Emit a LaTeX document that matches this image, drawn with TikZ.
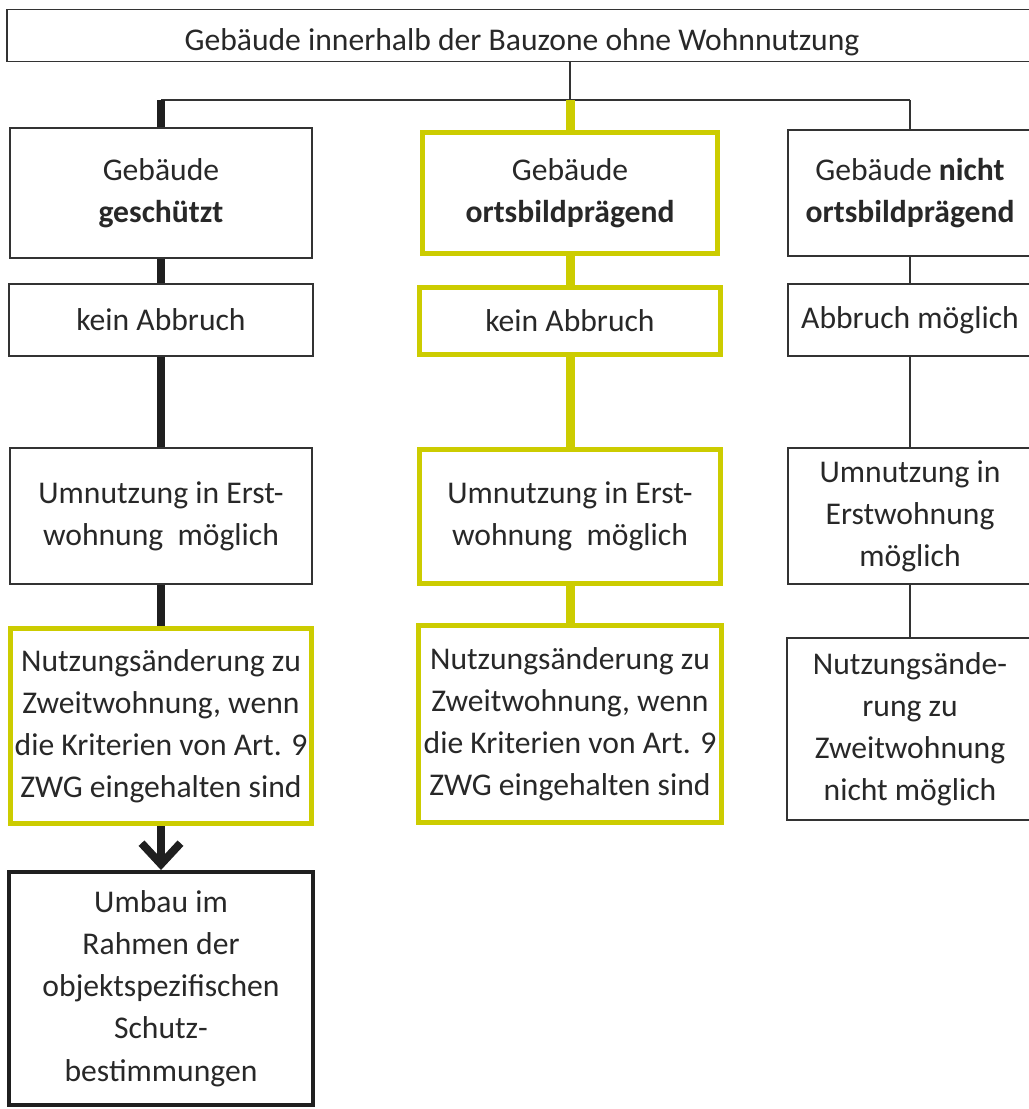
\documentclass[tikz,border=0pt]{standalone}
\usepackage{fontspec}
\setmainfont{Carlito}
\usetikzlibrary{arrows.meta}
\definecolor{ortsgelb}{RGB}{204,204,0}
\definecolor{schrift}{RGB}{40,40,40}

\begin{document}
\begin{tikzpicture}[x=0.02cm,y=-0.02cm,font=\fontsize{18}{24}\selectfont,text=schrift,
    >={Straight Barb[length=0.42cm,width=0.78cm]},
    box/.style={draw=black!80,line width=0.8pt,fill=white,align=center,inner sep=2pt},
    gelb/.style={draw=ortsgelb,line width=0.1cm,fill=white,align=center,inner sep=2pt},
    fett/.style={draw=black!88,line width=0.08cm,fill=white,align=center,inner sep=2pt},
    schwarz/.style={draw=black!88,line width=0.16cm},
    gelblinie/.style={draw=ortsgelb,line width=0.18cm},
    duenn/.style={draw=black!80,line width=0.8pt}]
    \useasboundingbox (0,0) rectangle (1028,1109);
    \node (T) [box,minimum width=20.6cm,minimum height=1.02cm,text height=0.75cm,text depth=0.16cm] at (522,35.5) {Geb\"aude innerhalb der Bauzone ohne Wohnnutzung};
    % linke Spalte: geschuetzt
    \node (L1) [box,minimum width=6.04cm,minimum height=2.6cm]  at (161,193) {Geb\"aude\\\textbf{gesch\"utzt}};
    \node (L2) [box,minimum width=6.08cm,minimum height=1.44cm] at (161,320) {kein Abbruch};
    \node (L3) [box,minimum width=6.04cm,minimum height=2.72cm] at (161,516) {Umnutzung in Erst-\\wohnung\ \ m\"oglich};
    \node (L4) [gelb,minimum width=6.04cm,minimum height=3.92cm] at (161,726) {Nutzungs\"anderung zu\\Zweitwohnung, wenn\\die Kriterien von Art. 9\\ZWG eingehalten sind};
    \node (L5) [fett,minimum width=6.08cm,minimum height=4.66cm] at (161,988.5) {Umbau im\\Rahmen der\\objektspezifischen\\Schutz-\\bestimmungen};
    % mittlere Spalte: ortsbildpraegend
    \node (M1) [gelb,minimum width=5.92cm,minimum height=2.44cm] at (570,193)   {Geb\"aude\\\textbf{ortsbildpr\"agend}};
    \node (M2) [gelb,minimum width=6.04cm,minimum height=1.36cm] at (570,321)   {kein Abbruch};
    \node (M3) [gelb,minimum width=6.04cm,minimum height=2.7cm]  at (570,516.5) {Umnutzung in Erst-\\wohnung\ \ m\"oglich};
    \node (M4) [gelb,minimum width=6.06cm,minimum height=3.96cm] at (570,724)   {Nutzungs\"anderung zu\\Zweitwohnung, wenn\\die Kriterien von Art. 9\\ZWG eingehalten sind};
    % rechte Spalte: nicht ortsbildpraegend
    \node (R1) [box,minimum width=4.88cm,minimum height=2.52cm] at (910,193) {Geb\"aude \textbf{nicht}\\\textbf{ortsbildpr\"agend}};
    \node (R2) [box,minimum width=4.88cm,minimum height=1.44cm] at (910,320) {Abbruch m\"oglich};
    \node (R3) [box,minimum width=4.88cm,minimum height=2.72cm] at (910,516) {Umnutzung in\\Erstwohnung\\m\"oglich};
    \node (R4) [box,minimum width=4.92cm,minimum height=3.64cm] at (910,729) {Nutzungs\"ande-\\rung zu\\Zweitwohnung\\nicht m\"oglich};
    \coordinate (B) at (570,100);
    \draw [duenn] (M1 |- T.south) -- (B);
    \draw [duenn] (L1 |- B) -- (R1 |- B);
    \draw [schwarz] (L1 |- B) -- (L1.north);
    \draw [gelblinie] (B) -- (M1.north);
    \draw [duenn] (R1 |- B) -- (R1.north);
    \draw [schwarz] (L1) -- (L2);
    \draw [schwarz] (L2) -- (L3);
    \draw [schwarz] (L3) -- (L4);
    \draw [schwarz,->] (L4) -- (L5);
    \draw [gelblinie] (M1) -- (M2);
    \draw [gelblinie] (M2) -- (M3);
    \draw [gelblinie] (M3) -- (M4);
    \draw [duenn] (R1) -- (R2);
    \draw [duenn] (R2) -- (R3);
    \draw [duenn] (R3) -- (R4);
\end{tikzpicture}
\end{document}
